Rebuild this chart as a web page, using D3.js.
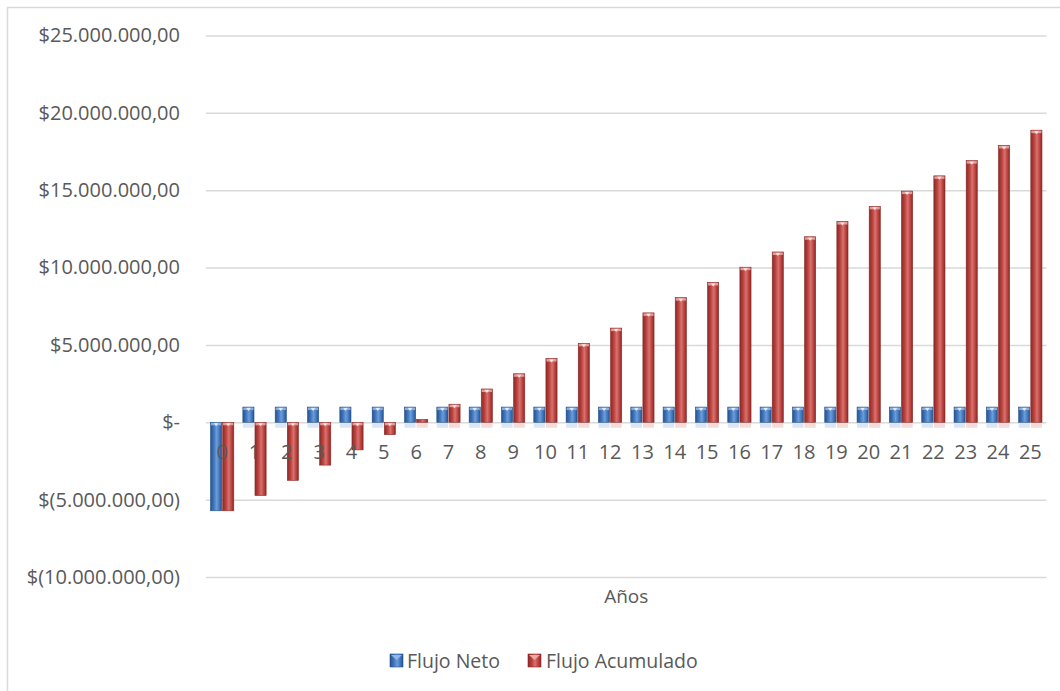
<!DOCTYPE html>
<html>
<head>
<meta charset="utf-8">
<script src="https://cdn.jsdelivr.net/npm/d3@7"></script>
<style>
  html, body { margin: 0; padding: 0; background: #ffffff; }
  svg { display: block; }
  text { font-family: "Open Sans", "Noto Sans", sans-serif; fill: #595959; }
</style>
</head>
<body>
<svg id="chart" width="1060" height="691"></svg>
<script>
// Años del proyecto
const years = ["0","1","2","3","4","5","6","7","8","9","10","11","12","13","14","15","16","17","18","19","20","21","22","23","24","25"];

// Flujo neto anual
const flujoNeto = [
  -5720000, 984000, 984000, 984000, 984000, 984000, 984000, 984000, 984000, 984000,
  984000, 984000, 984000, 984000, 984000, 984000, 984000, 984000, 984000, 984000,
  984000, 984000, 984000, 984000, 984000, 984000
];

// Flujo acumulado
const flujoAcumulado = [
  -5720000, -4736000, -3752000, -2768000, -1784000, -800000, 184000, 1168000, 2152000, 3136000,
  4120000, 5104000, 6088000, 7072000, 8056000, 9040000, 10024000, 11008000, 11992000, 12976000,
  13960000, 14944000, 15928000, 16912000, 17896000, 18880000
];

const seriesNames = ["Flujo Neto", "Flujo Acumulado"];
const yTicks = [-10000000, -5000000, 0, 5000000, 10000000, 15000000, 20000000, 25000000];

const svg = d3.select("#chart");

// Marco del gráfico
svg.append("rect")
  .attr("x", 7.5).attr("y", 7.5)
  .attr("width", 1200).attr("height", 900)
  .attr("fill", "#ffffff")
  .attr("stroke", "#d9d9d9")
  .attr("stroke-width", 1.5);

const plot = { left: 206, right: 1046.5, top: 35.5, bottom: 577 };

const y = d3.scaleLinear()
  .domain([-10000000, 25000000])
  .range([plot.bottom, plot.top]);

const x = d3.scaleBand()
  .domain(years)
  .range([plot.left, plot.right])
  .paddingInner(0.28)
  .paddingOuter(0.14);

const xs = d3.scaleBand()
  .domain(seriesNames)
  .range([0, x.bandwidth()])
  .paddingInner(0.08);

// Formato contable: $25.000.000,00 / $(5.000.000,00) / $-
const fmtNum = d3.formatLocale({ decimal: ",", thousands: ".", grouping: [3], currency: ["$", ""] }).format(",.2f");
function money(v) {
  if (v === 0) return "$-";
  if (v < 0) return "$(" + fmtNum(-v) + ")";
  return "$" + fmtNum(v);
}

// Líneas de cuadrícula y etiquetas del eje Y
const yAxis = d3.axisLeft(y)
  .tickValues(yTicks)
  .tickSize(-(plot.right - plot.left))
  .tickFormat(money)
  .tickPadding(26);

const gy = svg.append("g")
  .attr("transform", `translate(${plot.left},0)`)
  .call(yAxis);
gy.select(".domain").remove();
gy.selectAll(".tick line").attr("stroke", "#d9d9d9").attr("stroke-width", 1.5);
gy.selectAll(".tick text")
  .attr("font-size", "20px")
  .attr("fill", "#595959")
  .attr("text-anchor", "end");

// Degradados de las barras
const defs = svg.append("defs");
const palettes = {
  "Flujo Neto": { dark: "#26528c", mid: "#4077bd", light: "#6d9cda", cap: "#92b6e8" },
  "Flujo Acumulado": { dark: "#8a2a27", mid: "#bb423e", light: "#d8726e", cap: "#eca6a3" }
};
seriesNames.forEach((s, i) => {
  const p = palettes[s];
  const g = defs.append("linearGradient").attr("id", "grad" + i)
    .attr("x1", "0%").attr("x2", "100%").attr("y1", "0%").attr("y2", "0%");
  g.append("stop").attr("offset", "0%").attr("stop-color", p.dark);
  g.append("stop").attr("offset", "30%").attr("stop-color", p.mid);
  g.append("stop").attr("offset", "55%").attr("stop-color", p.light);
  g.append("stop").attr("offset", "80%").attr("stop-color", p.mid);
  g.append("stop").attr("offset", "100%").attr("stop-color", p.dark);
});

const rows = years.map((yr, i) => ({ year: yr, values: [flujoNeto[i], flujoAcumulado[i]] }));

const bars = svg.append("g");
rows.forEach(r => {
  r.values.forEach((v, si) => {
    const s = seriesNames[si];
    const p = palettes[s];
    const bx = x(r.year) + xs(s);
    const bw = xs.bandwidth();
    const top = y(Math.max(0, v));
    const bot = y(Math.min(0, v));
    const h = Math.max(bot - top, 1.5);
    // reflejo suave bajo el eje
    if (v > 0) {
      bars.append("rect")
        .attr("x", bx).attr("y", y(0) + 1.5)
        .attr("width", bw).attr("height", 4)
        .attr("fill", p.light).attr("opacity", 0.25);
    }
    bars.append("rect")
      .attr("x", bx).attr("y", top)
      .attr("width", bw).attr("height", h)
      .attr("fill", `url(#grad${si})`)
      .attr("stroke", p.dark).attr("stroke-width", 0.6);
    // bisel superior
    if (h > 3) {
      bars.append("rect")
        .attr("x", bx + 0.5).attr("y", top + 0.5)
        .attr("width", bw - 1).attr("height", 2.5)
        .attr("fill", p.cap).attr("opacity", 0.9);
      bars.append("path")
        .attr("d", `M${bx + bw * 0.3},${top + 1} L${bx + bw * 0.7},${top + 1} L${bx + bw / 2},${top + 4} Z`)
        .attr("fill", "#ffffff").attr("opacity", 0.75);
    }
  });
});

// Etiquetas del eje X (años)
svg.append("g").selectAll("text")
  .data(years)
  .join("text")
  .attr("x", d => x(d) + x.bandwidth() / 2)
  .attr("y", 459)
  .attr("text-anchor", "middle")
  .attr("font-size", "20px")
  .text(d => d);

// Título del eje
svg.append("text")
  .attr("x", (plot.left + plot.right) / 2)
  .attr("y", 603)
  .attr("text-anchor", "middle")
  .attr("font-size", "19px")
  .text("Años");

// Leyenda
const legend = svg.append("g");
const legendItems = [
  { name: "Flujo Neto", sx: 390, tx: 407 },
  { name: "Flujo Acumulado", sx: 528, tx: 546 }
];
legendItems.forEach((it, i) => {
  const p = palettes[it.name];
  legend.append("rect")
    .attr("x", it.sx).attr("y", 654)
    .attr("width", 13).attr("height", 13)
    .attr("fill", `url(#grad${i})`)
    .attr("stroke", p.dark).attr("stroke-width", 0.6);
  legend.append("path")
    .attr("d", `M${it.sx + 1},${655} L${it.sx + 12},${655} L${it.sx + 6.5},${660} Z`)
    .attr("fill", p.cap);
  legend.append("text")
    .attr("x", it.tx).attr("y", 668)
    .attr("font-size", "19.5px")
    .text(it.name);
});
</script>
</body>
</html>
